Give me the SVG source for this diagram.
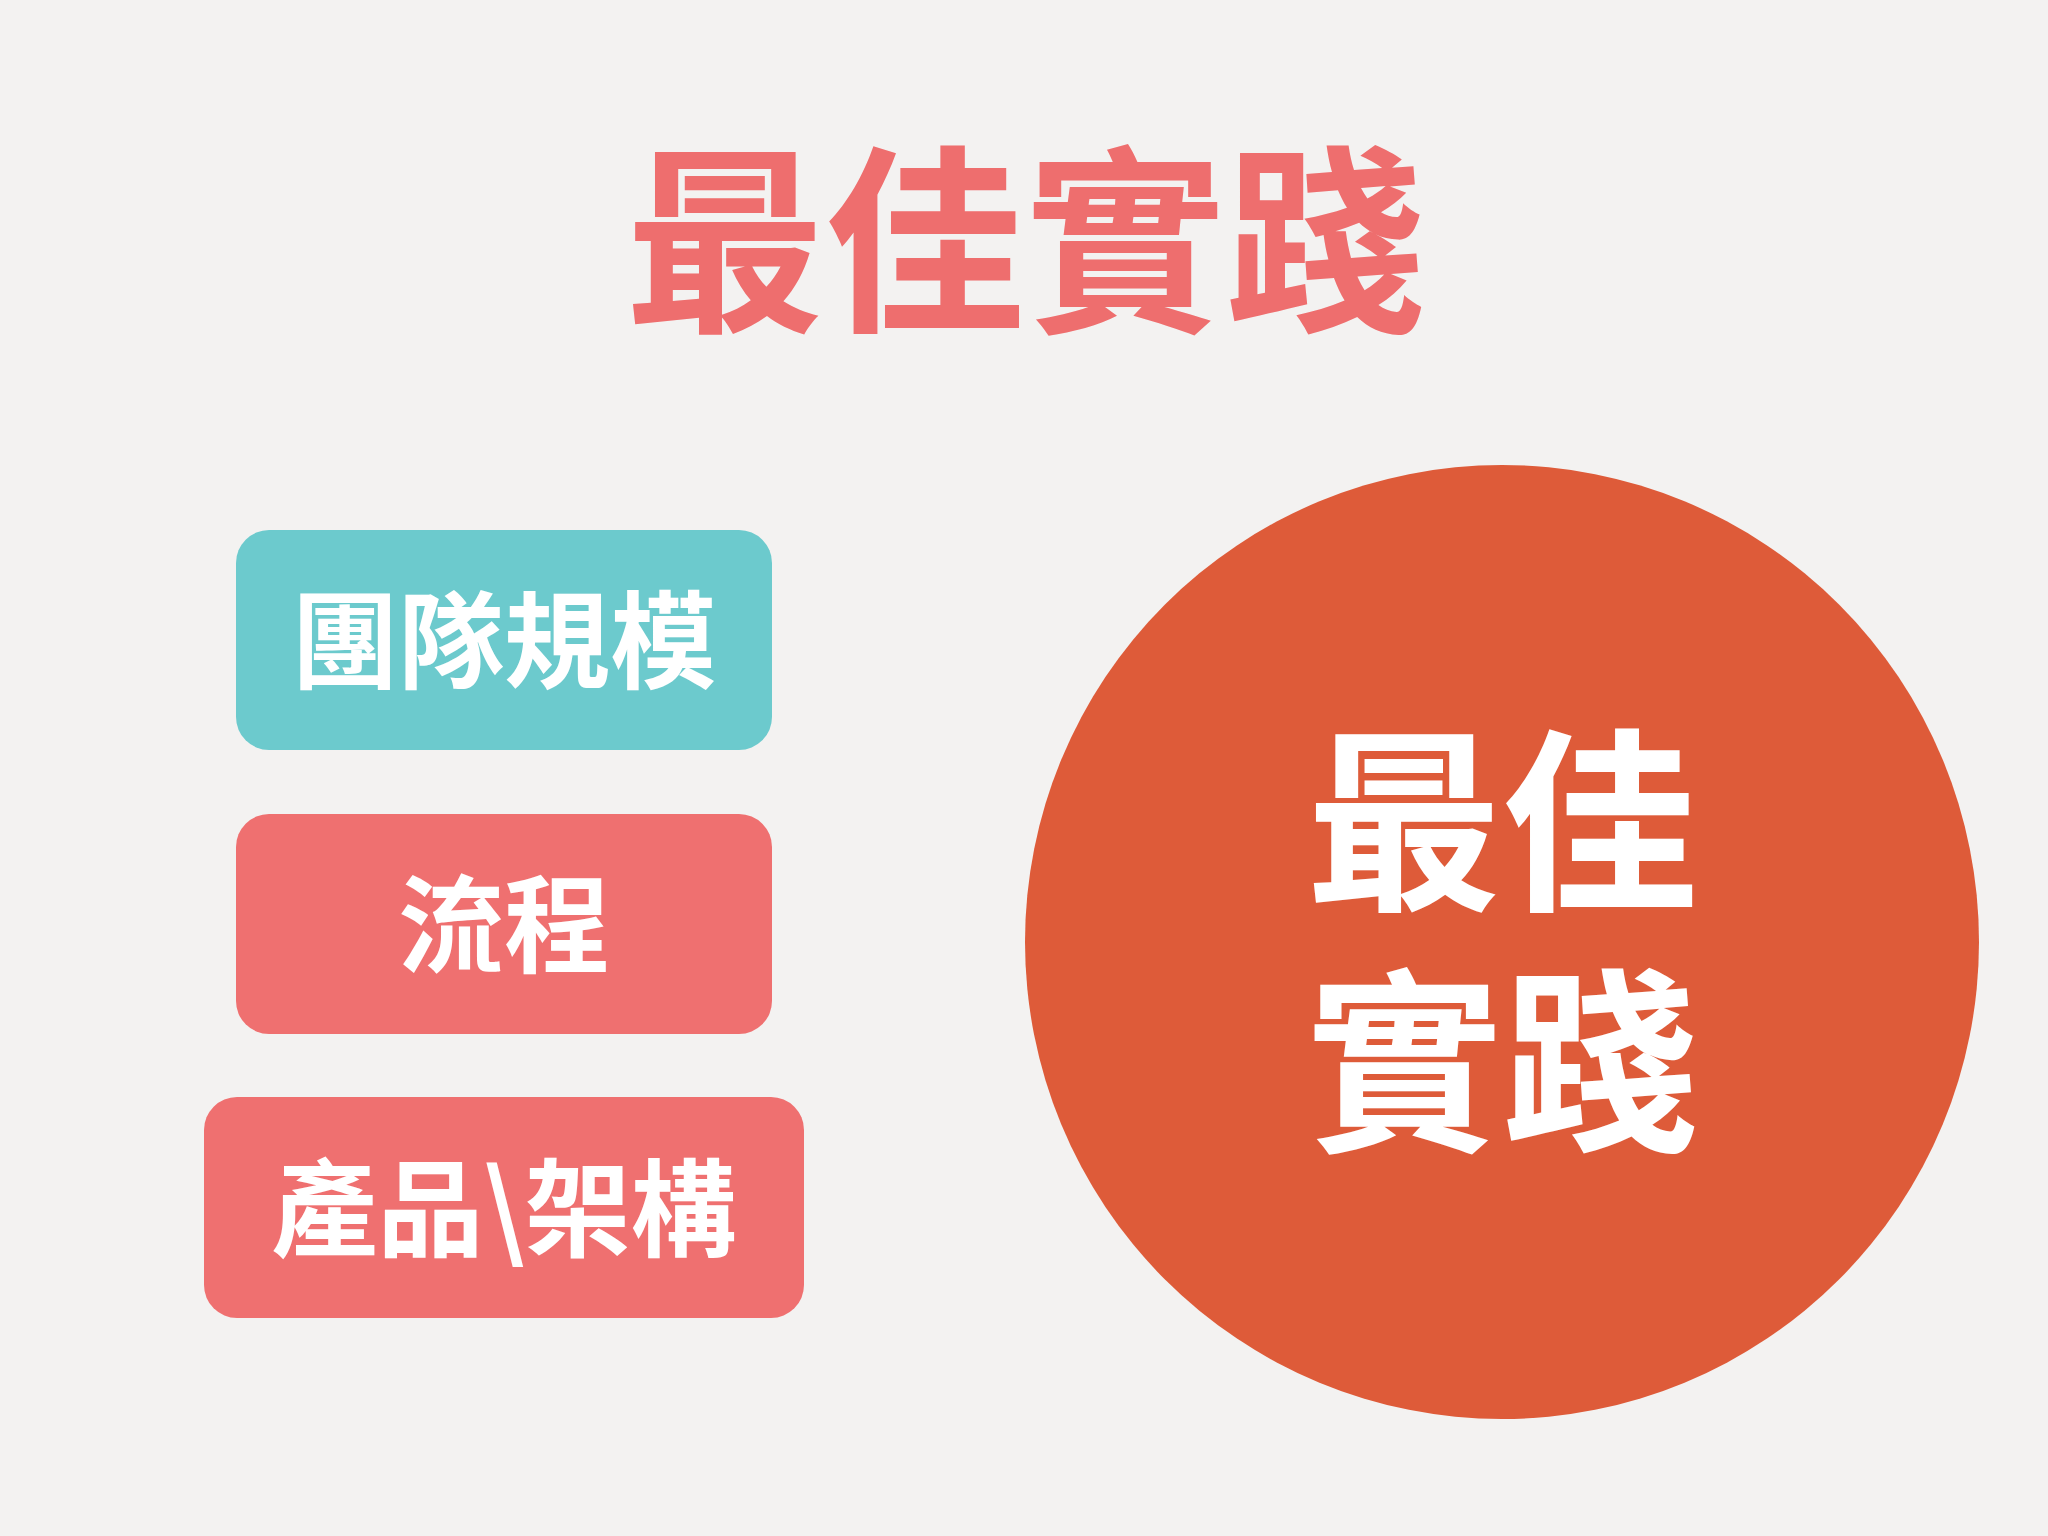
<svg xmlns="http://www.w3.org/2000/svg" width="2048" height="1536" viewBox="0 0 2048 1536">
<style>
.t{font-family:"Noto Sans CJK TC","Noto Sans CJK SC",sans-serif;font-weight:bold;text-anchor:middle}
.lbl{fill:#ffffff;font-size:106px}
</style>
<rect width="2048" height="1536" fill="#f3f2f1"/>
<g id="title"><text class="t" x="1025" y="316" font-size="200" fill="#ee6e6e">最佳實踐</text></g>
<g id="node-team"><rect x="236" y="530" width="536" height="220" rx="33" fill="#6ccacd"/><text class="t lbl" x="504" y="680">團隊規模</text></g>
<g id="node-process"><rect x="236" y="814" width="536" height="220" rx="33" fill="#ef7070"/><text class="t lbl" x="504" y="964">流程</text></g>
<g id="node-product"><rect x="204" y="1097" width="600" height="221" rx="33" fill="#ef7070"/><text class="t lbl" x="504" y="1248">產品\架構</text></g>
<g id="node-best"><circle cx="1502" cy="942" r="477" fill="#de5b39"/><text class="t" font-size="196" fill="#ffffff"><tspan x="1502" y="895">最佳</tspan><tspan x="1502" y="1135">實踐</tspan></text></g>
<g id="connectors"></g>
</svg>
